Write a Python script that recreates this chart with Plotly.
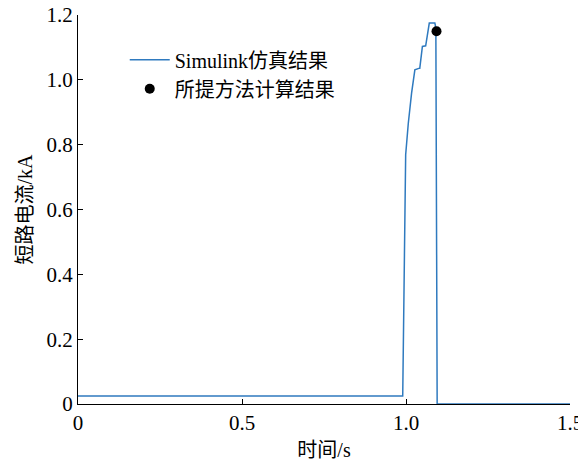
import plotly.graph_objects as go

# Simulink simulation curve (time in s, current in kA)
sim_t = [0.0, 0.99, 0.999, 1.007, 1.017, 1.027, 1.041, 1.042, 1.050, 1.058, 1.060, 1.071, 1.088, 1.091, 1.095, 1.5]
sim_i = [0.025, 0.025, 0.769, 0.866, 0.959, 1.031, 1.036, 1.036, 1.103, 1.105, 1.105, 1.175, 1.175, 1.160, 0.0, 0.0]

# Proposed-method calculation result
calc_t = [1.093]
calc_i = [1.15]

x_tickvals = [0, 0.5, 1.0, 1.5]
x_ticktext = ["0", "0.5", "1.0", "1.5"]
y_tickvals = [0, 0.2, 0.4, 0.6, 0.8, 1.0, 1.2]
y_ticktext = ["0", "0.2", "0.4", "0.6", "0.8", "1.0", "1.2"]

font_family = "Liberation Serif, Times New Roman, Noto Sans CJK SC, serif"

fig = go.Figure()
fig.add_trace(go.Scatter(x=sim_t, y=sim_i, mode="lines", name="Simulink仿真结果",
                         line=dict(color="#2f7abf", width=1.5)))
fig.add_trace(go.Scatter(x=calc_t, y=calc_i, mode="markers", name="所提方法计算结果",
                         marker=dict(color="black", size=10)))

fig.update_layout(
    width=578, height=453,
    margin=dict(l=70, r=16, t=7, b=57),
    paper_bgcolor="white", plot_bgcolor="white",
    font=dict(family=font_family, size=20, color="black"),
    showlegend=True,
    legend=dict(x=0.095, y=0.935, xanchor="left", yanchor="top",
                bgcolor="rgba(0,0,0,0)", font=dict(size=20, family=font_family),
                tracegroupgap=0, itemwidth=40),
    xaxis=dict(range=[0, 1.5], tickvals=x_tickvals, ticktext=x_ticktext,
               automargin=False, ticklabeloverflow="allow",
               showgrid=False, zeroline=False, showline=True, linecolor="black",
               linewidth=1, ticks="inside", ticklen=5, tickcolor="black",
               title=dict(text="时间/s", standoff=10, font=dict(size=20)),
               tickfont=dict(size=21)),
    yaxis=dict(range=[0, 1.2], tickvals=y_tickvals, ticktext=y_ticktext,
               automargin=False, ticklabeloverflow="allow",
               showgrid=False, zeroline=False, showline=True, linecolor="black",
               linewidth=1, ticks="inside", ticklen=5, tickcolor="black",
               title=dict(text="短路电流/kA", standoff=8, font=dict(size=20)),
               tickfont=dict(size=21)),
)

fig.write_html("out.html")
